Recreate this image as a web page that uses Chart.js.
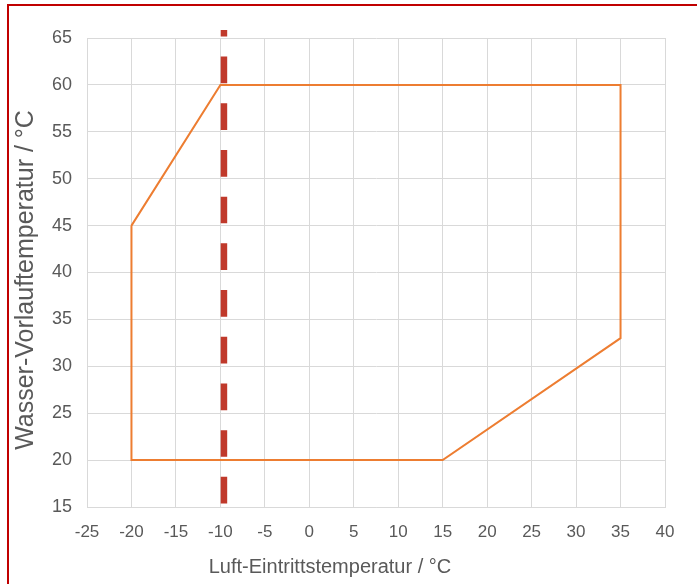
<!DOCTYPE html>
<html>
<head>
<meta charset="utf-8">
<script src="https://cdn.jsdelivr.net/npm/chart.js@4"></script>
<style>
  html, body { margin: 0; padding: 0; background: #fff; }
  #frame { position: absolute; left: 0; top: 0; width: 697px; height: 584px; }
  #edge { position: absolute; left: 7px; top: 4px; right: 0; bottom: 0; border-left: 2px solid #c00000; border-top: 2px solid #c00000; pointer-events: none; }
</style>
</head>
<body>
<div id="frame"><canvas id="chart" width="697" height="584"></canvas></div>
<div id="edge"></div>
<script>
// operating envelope (air inlet temp vs. water flow temp)
const envX = [-20, -10, 35, 35, 15, -20, -20];
const envY = [45, 60, 60, 33, 20, 20, 45];

// bivalent / limit line
const limX = [-9.6, -9.6];
const limY = [68, 15];

const xTitle = "Luft-Eintrittstemperatur / °C";
const yTitle = "Wasser-Vorlauftemperatur / °C";

const GRID = "#d9d9d9";
const TXT = "#595959";
const FONT = "'Liberation Sans', Arial, sans-serif";

const pts = (xs, ys) => xs.map((x, i) => ({ x, y: ys[i] }));

// axis titles sit off-centre in the original, so place them by hand
const axisTitles = {
  id: "axisTitles",
  afterDraw(chart) {
    const { ctx } = chart;
    ctx.save();
    ctx.fillStyle = TXT;
    ctx.textAlign = "center"; ctx.textBaseline = "middle";
    ctx.font = `20px ${FONT}`;
    ctx.fillText(xTitle, 330, 567);
    ctx.translate(26, 280); ctx.rotate(-Math.PI / 2);
    ctx.font = `25px ${FONT}`;
    ctx.fillText(yTitle, 0, 0);
    ctx.restore();
  },
};

new Chart(document.getElementById("chart"), {
  type: "scatter",
  data: {
    datasets: [
      { data: pts(envX, envY), showLine: true, borderColor: "#ed7d31", borderWidth: 2, pointRadius: 0, fill: false, tension: 0 },
      { data: pts(limX, limY), showLine: true, borderColor: "#c0392b", borderWidth: 6.5, borderDash: [26.7, 20], pointRadius: 0, fill: false,
        clip: { left: 10, top: 8, right: 10, bottom: 0 } },
    ],
  },
  options: {
    responsive: false, animation: false,
    layout: { padding: { left: 13, top: 38, right: 32, bottom: 7 } },
    plugins: { legend: { display: false }, tooltip: { enabled: false } },
    scales: {
      x: {
        type: "linear", min: -25, max: 40,
        afterFit: s => { s.height = 70; },
        grid: { color: GRID, lineWidth: 1, drawTicks: false },
        border: { color: GRID, width: 1 },
        ticks: { stepSize: 5, padding: 15, color: TXT, font: { size: 17, family: FONT } },
      },
      y: {
        type: "linear", min: 15, max: 65,
        afterFit: s => { s.width = 74; },
        grid: { color: GRID, lineWidth: 1, drawTicks: false },
        border: { color: GRID, width: 1 },
        ticks: { stepSize: 5, padding: 15, color: TXT, font: { size: 18, family: FONT } },
      },
    },
  },
  plugins: [axisTitles],
});
</script>
</body>
</html>
